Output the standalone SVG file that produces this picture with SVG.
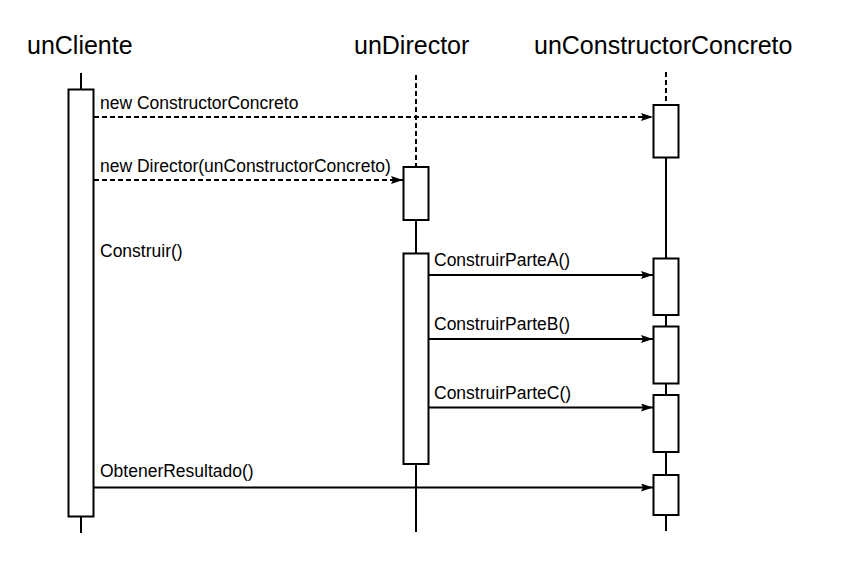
<svg xmlns="http://www.w3.org/2000/svg" width="847" height="586" viewBox="0 0 847 586">
<style>
.title{font-family:"Liberation Sans",Arial,sans-serif;font-size:25px;fill:#000}
.lbl{font-family:"Liberation Sans",Arial,sans-serif;font-size:17.5px;fill:#000}
.life{stroke:#000;stroke-width:2;fill:none}
.dash{stroke-dasharray:5,3}
.act{fill:#fff;stroke:#000;stroke-width:2}
.msg{stroke:#000;stroke-width:2;fill:none;marker-end:url(#arr)}
</style>
<defs>
<marker id="arr" markerUnits="userSpaceOnUse" markerWidth="13" markerHeight="9" refX="12" refY="4" orient="auto">
<path d="M0,0 L12,4 L0,8 L2,4 z" fill="#000"/>
</marker>
</defs>
<rect width="847" height="586" fill="#fff"/>
<g id="unCliente">
<text class="title" x="27" y="54">unCliente</text>
<line class="life" x1="81" y1="73" x2="81" y2="533"/>
<rect class="act" x="68.5" y="89.5" width="25" height="427"/>
</g>
<g id="unDirector">
<text class="title" x="354" y="54">unDirector</text>
<line class="life dash" x1="416" y1="75" x2="416" y2="167"/>
<line class="life" x1="416" y1="220" x2="416" y2="532"/>
<rect class="act" x="403.5" y="167" width="25" height="53"/>
<rect class="act" x="403.5" y="253.5" width="25" height="210.5"/>
</g>
<g id="unConstructorConcreto">
<text class="title" x="534" y="54">unConstructorConcreto</text>
<line class="life dash" x1="666" y1="72" x2="666" y2="105"/>
<line class="life" x1="666" y1="157" x2="666" y2="531"/>
<rect class="act" x="653.5" y="105" width="25" height="52.5"/>
<rect class="act" x="653.5" y="258.5" width="25" height="56.5"/>
<rect class="act" x="653.5" y="326.5" width="25" height="57"/>
<rect class="act" x="653.5" y="395" width="25" height="57"/>
<rect class="act" x="653.5" y="475" width="25" height="40"/>
</g>
<g id="connectors">
<line class="msg dash" x1="94" y1="117" x2="653" y2="117"/>
<line class="msg dash" x1="94" y1="180" x2="403" y2="180"/>
<line class="msg" x1="429" y1="275" x2="653" y2="275"/>
<line class="msg" x1="429" y1="339" x2="653" y2="339"/>
<line class="msg" x1="429" y1="407.5" x2="653" y2="407.5"/>
<line class="msg" x1="94" y1="487.5" x2="653" y2="487.5"/>
</g>
<g id="labels">
<text class="lbl" x="100" y="109">new ConstructorConcreto</text>
<text class="lbl" x="100" y="171.5">new Director(unConstructorConcreto)</text>
<text class="lbl" x="100" y="256.5">Construir()</text>
<text class="lbl" x="434" y="266">ConstruirParteA()</text>
<text class="lbl" x="434" y="329.5">ConstruirParteB()</text>
<text class="lbl" x="434" y="398.5">ConstruirParteC()</text>
<text class="lbl" x="100" y="476.5">ObtenerResultado()</text>
</g>
</svg>
